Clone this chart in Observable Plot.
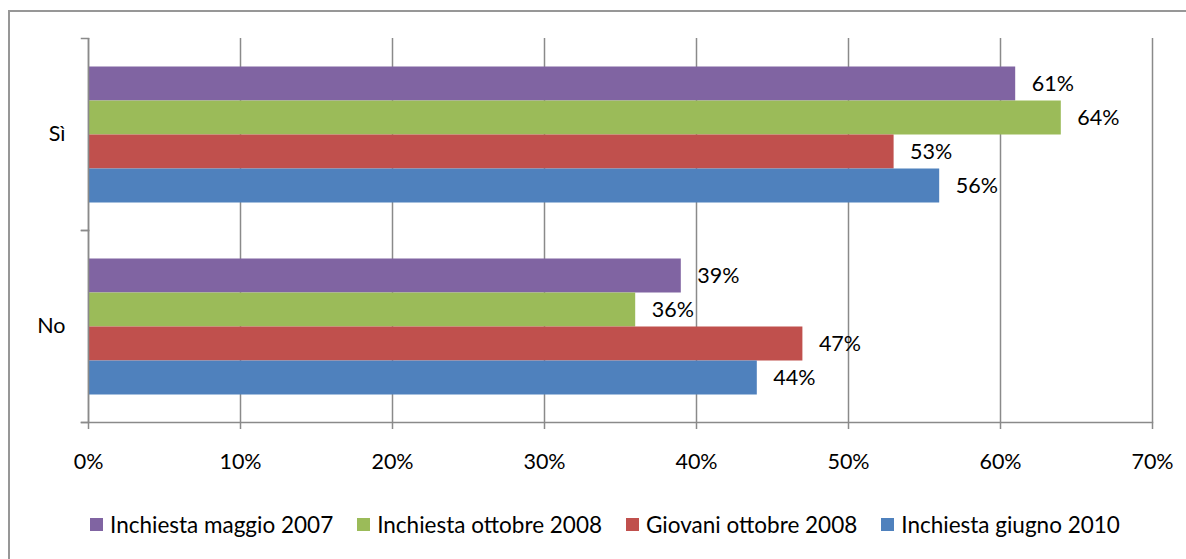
<!DOCTYPE html>
<html>
<head>
<meta charset="utf-8">
<script src="https://cdn.jsdelivr.net/npm/d3@7"></script>
<script src="https://cdn.jsdelivr.net/npm/@observablehq/plot@0.6"></script>
<style>
  html, body { margin: 0; padding: 0; background: #fff; width: 1186px; height: 559px; overflow: hidden; }
  #wrap { position: relative; width: 1186px; height: 559px; font-family: Lato, sans-serif; }
  #border { position: absolute; left: 8px; top: 10px; width: 1200px; height: 600px; border-left: 2px solid #979797; border-top: 2px solid #979797; box-sizing: border-box; }
  #chart { position: absolute; left: 0; top: 0; }
  #legend { position: absolute; left: 90px; top: 511px; display: flex; align-items: center; font-size: 22.5px; color: #000; white-space: nowrap; }
  .item { display: flex; align-items: center; margin-right: 24px; }
  .sw { width: 13px; height: 13px; margin-right: 7px; }
</style>
</head>
<body>
<div id="wrap">
  <div id="border"></div>
  <div id="chart"></div>
  <div id="legend"></div>
</div>
<script>
const categories = ["Sì", "No"];
const series = ["Inchiesta maggio 2007", "Inchiesta ottobre 2008", "Giovani ottobre 2008", "Inchiesta giugno 2010"];
const colors = ["#8064A2", "#9BBB59", "#C0504D", "#4F81BD"];
const valuesSi = [61, 64, 53, 56];
const valuesNo = [39, 36, 47, 44];
const xTicks = [0, 10, 20, 30, 40, 50, 60, 70];

const valuesByCat = [valuesSi, valuesNo];
const data = categories.flatMap((c, i) => series.map((s, j) => ({cat: c, series: s, value: valuesByCat[i][j]})));

const gray = "#8a8a8a";
const sw = 1.5;
const pct = d => d + "%";

const plot = Plot.plot({
  width: 1186,
  height: 480,
  marginLeft: 88,
  marginRight: 34,
  marginTop: 37.5,
  marginBottom: 57,
  style: {fontFamily: "Lato, sans-serif", fontSize: "21px", color: "#000", background: "transparent", overflow: "visible"},
  x: {domain: [0, 70]},
  y: {domain: series, paddingInner: 0, paddingOuter: 0.75, axis: null},
  fy: {domain: categories, padding: 0},
  color: {domain: series, range: colors},
  marks: [
    Plot.gridX(xTicks, {stroke: gray, strokeOpacity: 1, strokeWidth: sw}),
    Plot.barX(data, {x: "value", y: "series", fy: "cat", fill: "series"}),
    Plot.text(data, {x: "value", y: "series", fy: "cat", text: d => pct(d.value), dx: 16, textAnchor: "start", fill: "#000", fontSize: 21.5}),
    Plot.ruleX([0], {stroke: gray, strokeWidth: sw}),
    Plot.frame({anchor: "top", insetLeft: -7, insetRight: 1064, stroke: gray, strokeWidth: sw}),
    Plot.frame({anchor: "bottom", insetLeft: -7, insetRight: 1064, stroke: gray, strokeWidth: sw}),
    Plot.frame({anchor: "bottom", facetAnchor: "bottom", insetLeft: -7, stroke: gray, strokeWidth: sw}),
    Plot.axisX(xTicks, {tickSize: 7, tickPadding: 24, tickFormat: pct, stroke: gray, strokeWidth: sw, label: null, fontSize: 21.5}),
    Plot.axisFy({anchor: "left", tickSize: 0, tickPadding: 23, label: null, fontSize: 21.5})
  ]
});
document.getElementById("chart").appendChild(plot);

const legend = document.getElementById("legend");
series.forEach((s, i) => {
  const item = document.createElement("div");
  item.className = "item";
  const sq = document.createElement("span");
  sq.className = "sw";
  sq.style.background = colors[i];
  const t = document.createElement("span");
  t.textContent = s;
  item.appendChild(sq);
  item.appendChild(t);
  legend.appendChild(item);
});
</script>
</body>
</html>
